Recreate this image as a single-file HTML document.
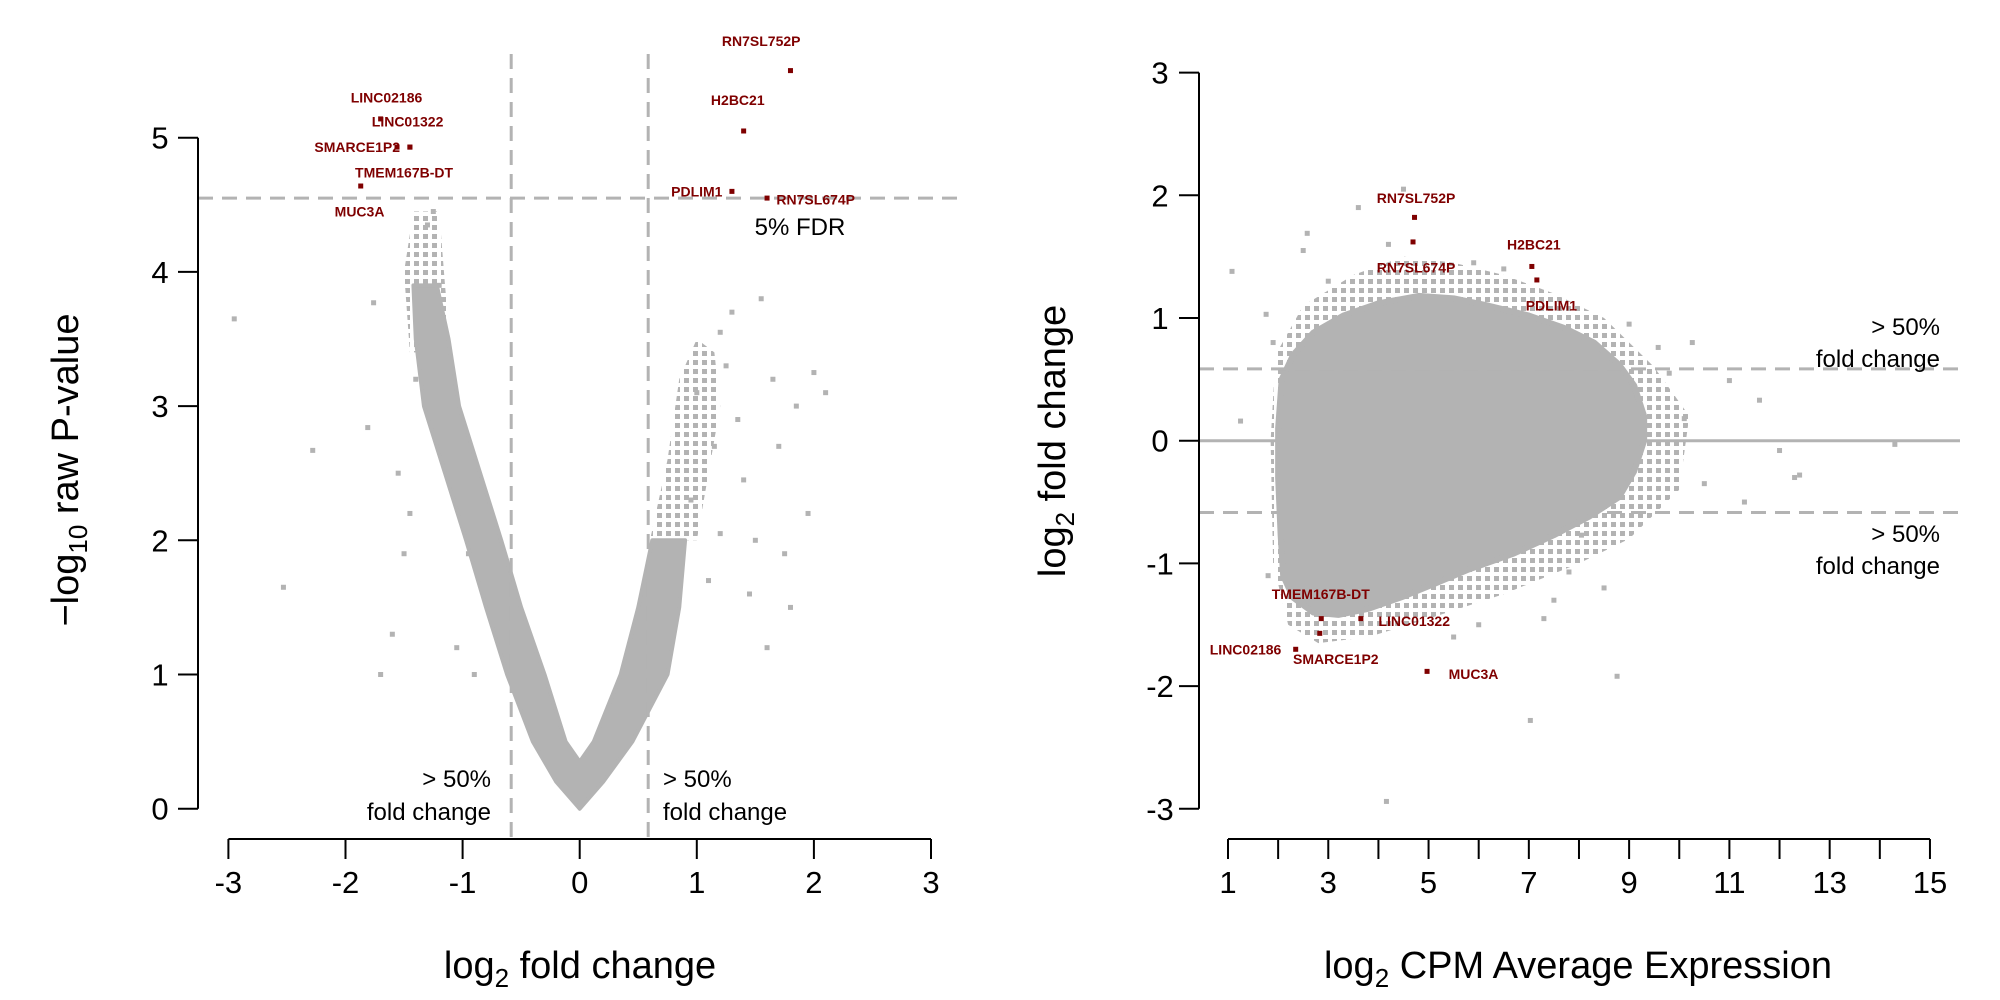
<!DOCTYPE html>
<html><head><meta charset="utf-8"><style>
html,body{margin:0;padding:0;background:#fff}
svg{display:block;font-family:"Liberation Sans",Arial,sans-serif}
</style></head><body>
<svg id="chart" width="2000" height="1000" viewBox="0 0 2000 1000" xmlns="http://www.w3.org/2000/svg">
<defs>
<pattern id="dots" width="9" height="9" patternUnits="userSpaceOnUse"><rect x="0" y="0" width="5" height="5" fill="#b3b3b3"/></pattern>
</defs>
<g id="left"></g>
<g id="right"></g>
</svg>
<script>
// ---------- data ----------
const volXTicks = [-3,-2,-1,0,1,2,3];
const volYTicks = [0,1,2,3,4,5];
const volDense = [[0,0],[-0.2,0.2],[-0.4,0.5],[-0.62,1.0],[-0.8,1.5],[-0.97,2.0],[-1.15,2.5],[-1.33,3.0],[-1.4,3.5],[-1.42,3.9],[-1.22,3.9],[-1.12,3.5],[-1.03,3.0],[-0.85,2.5],[-0.67,2.0],[-0.5,1.5],[-0.3,1.0],[-0.12,0.5],[0,0.35],[0.12,0.5],[0.35,1.0],[0.5,1.5],[0.62,2.0],[0.9,2.0],[0.85,1.5],[0.75,1.0],[0.45,0.5],[0.2,0.2]];
const volHalo = [[-1.45,3.4],[-1.5,4.0],[-1.42,4.45],[-1.2,4.45],[-1.15,3.9],[-1.1,3.4]];
const volHaloRight = [[0.6,2.0],[0.75,2.6],[0.85,3.2],[1.0,3.5],[1.15,3.4],[1.2,3.0],[1.1,2.5],[1.0,2.0]];
const volOutX = [-2.95,-2.28,-2.53,-1.76,-1.81,-1.6,-1.7,-1.5,-1.3,-1.25,-1.4,-1.55,-1.45,-1.2,-1.0,-0.95,-1.05,-0.9,1.55,1.65,2.1,2.0,1.85,1.7,1.4,1.5,1.8,1.95,1.3,1.2,1.45,1.6,1.75,1.35,1.25,1.15,1.1,1.0,0.95,1.2];
const volOutY = [3.65,2.67,1.65,3.77,2.84,1.3,1.0,1.9,4.35,4.45,3.2,2.5,2.2,3.9,2.7,1.9,1.2,1.0,3.8,3.2,3.1,3.25,3.0,2.7,2.45,2.0,1.5,2.2,3.7,3.55,1.6,1.2,1.9,2.9,3.3,2.7,1.7,3.1,2.3,2.05];
const volGenes = ['RN7SL752P','H2BC21','PDLIM1','RN7SL674P','LINC02186','LINC01322','SMARCE1P2','TMEM167B-DT','MUC3A'];
const volGeneX = [1.8,1.4,1.3,1.6,-1.7,-1.45,-1.56,-1.45,-1.87];
const volGeneY = [5.5,5.05,4.6,4.55,5.14,4.93,4.93,4.93,4.64];
const maXTicks = [1,2,3,4,5,6,7,8,9,10,11,12,13,14,15];
const maXLabels = [1,3,5,7,9,11,13,15];
const maYTicks = [-3,-2,-1,0,1,2,3];
const maCloud = [[2.07,0.5],[2.3,0.7],[2.7,0.88],[3.3,1.02],[4.0,1.12],[4.8,1.18],[5.5,1.16],[6.2,1.1],[7.0,1.02],[7.7,0.92],[8.3,0.8],[8.8,0.62],[9.1,0.45],[9.3,0.2],[9.3,0],[9.1,-0.25],[8.8,-0.46],[8.2,-0.62],[7.5,-0.77],[6.7,-0.92],[5.8,-1.05],[5.1,-1.17],[4.5,-1.27],[3.8,-1.37],[3.2,-1.42],[2.7,-1.4],[2.3,-1.28],[2.1,-1.1],[2.05,-0.77],[2.0,-0.3],[2.0,0.1]];
const maHalo = [[1.95,0.7],[2.5,1.1],[3.5,1.35],[4.5,1.5],[5.5,1.45],[6.5,1.35],[7.5,1.2],[8.5,1.0],[9.5,0.6],[10.2,0.2],[10.0,-0.4],[9.0,-0.8],[8.0,-1.0],[6.5,-1.25],[5.0,-1.45],[3.8,-1.6],[2.8,-1.65],[2.2,-1.5],[1.9,-1.0],[1.85,0]];
const maOutA = [2.58,1.76,1.08,1.25,9.58,10.26,11.0,11.6,12.0,12.4,14.3,8.05,7.8,7.03,4.16,8.76,7.3,10.1,3.6,4.2,4.5,5.9,6.5,9.8,10.5,11.3,8.5,9.0,3.0,2.5,1.9,1.8,6.0,7.5,5.5,12.3];
const maOutM = [1.69,1.03,1.38,0.16,0.76,0.8,0.49,0.33,-0.08,-0.28,-0.03,-0.77,-1.07,-2.28,-2.94,-1.92,-1.45,0.18,1.9,1.6,2.05,1.45,1.4,0.55,-0.35,-0.5,-1.2,0.95,1.3,1.55,0.8,-1.1,-1.5,-1.3,-1.6,-0.3];
const maGenes = ['RN7SL752P','RN7SL674P','H2BC21','PDLIM1','TMEM167B-DT','LINC01322','SMARCE1P2','LINC02186','MUC3A'];
const maGeneA = [4.72,4.69,7.06,7.16,2.86,3.65,2.83,2.35,4.97];
const maGeneM = [1.82,1.62,1.42,1.31,-1.45,-1.45,-1.57,-1.7,-1.88];

// ---------- helpers ----------
const NS='http://www.w3.org/2000/svg';
const GRAY='#b3b3b3', RED='#7f0000';
function mk(parent,tag,attrs,text){const e=document.createElementNS(NS,tag);for(const k in attrs)e.setAttribute(k,attrs[k]);if(text!==undefined)e.textContent=text;parent.appendChild(e);return e;}
const xL=v=>579.7+117.1*v, yL=v=>808.7-134.2*v;
const xR=a=>1228+50.14*(a-1), yR=m=>440.7-122.7*m;
const L=document.getElementById('left'), R=document.getElementById('right');

// ---------- left: volcano ----------
let e;
e=mk(L,'polygon',{points:volHalo.map(p=>xL(p[0])+','+yL(p[1])).join(' '),fill:'url(#dots)'});


e=mk(L,'polygon',{points:volHaloRight.map(p=>xL(p[0])+','+yL(p[1])).join(' '),fill:'url(#dots)'});


e=mk(L,'polygon',{points:volDense.map(p=>xL(p[0])+','+yL(p[1])).join(' '),fill:GRAY,stroke:GRAY,'stroke-width':4,'stroke-linejoin':'round'});


volOutX.forEach((v,i)=>{e=mk(L,'rect',{x:xL(v)-2.5,y:yL(volOutY[i])-2.5,width:5,height:5,fill:GRAY});

});
[-0.585,0.585].forEach(v=>{e=mk(L,'line',{x1:xL(v),x2:xL(v),y1:54,y2:839,stroke:GRAY,'stroke-width':3,'stroke-dasharray':'15 9'});

});
e=mk(L,'line',{x1:198,x2:963,y1:yL(4.55),y2:yL(4.55),stroke:GRAY,'stroke-width':3,'stroke-dasharray':'15 9'});


const volLab=[[1.55,5.72,'middle'],[1.35,5.28,'middle'],[1.0,4.6,'middle'],[1.68,4.54,'start'],[-1.65,5.3,'middle'],[-1.47,5.12,'middle'],[-1.9,4.93,'middle'],[-1.5,4.74,'middle'],[-1.88,4.45,'middle']];
volGenes.forEach((g,i)=>{e=mk(L,'rect',{x:xL(volGeneX[i])-2.5,y:yL(volGeneY[i])-2.5,width:5,height:5,fill:RED});


e=mk(L,'text',{x:xL(volLab[i][0]),y:yL(volLab[i][1])+5,'text-anchor':volLab[i][2],'font-size':14,'font-weight':'bold',fill:RED},g);

});
mk(L,'line',{x1:198,x2:198,y1:yL(0),y2:yL(5),stroke:'#000','stroke-width':2});
volYTicks.forEach(t=>{mk(L,'line',{x1:178,x2:198,y1:yL(t),y2:yL(t),stroke:'#000','stroke-width':2});
e=mk(L,'text',{x:160,y:yL(t)+11,'text-anchor':'middle','font-size':31},String(t));

});
mk(L,'line',{x1:xL(-3),x2:xL(3),y1:839,y2:839,stroke:'#000','stroke-width':2});
volXTicks.forEach(t=>{mk(L,'line',{x1:xL(t),x2:xL(t),y1:839,y2:859,stroke:'#000','stroke-width':2});
e=mk(L,'text',{x:xL(t),y:893,'text-anchor':'middle','font-size':31},String(t));

});
</script>
<script>
(function(){
const NS='http://www.w3.org/2000/svg';const L=document.getElementById('left');
function t(x,y,a,s,txt,name){const e=document.createElementNS(NS,'text');e.setAttribute('x',x);e.setAttribute('y',y);e.setAttribute('text-anchor',a);e.setAttribute('font-size',s);e.textContent=txt;


L.appendChild(e);return e;}
t(491,787,'end',24,'> 50%','fold-change-note-left');
t(491,820,'end',24,'fold change','fold-change-note-left');
t(663,787,'start',24,'> 50%','fold-change-note-right');
t(663,820,'start',24,'fold change','fold-change-note-right');
t(800,235,'middle',24,'5% FDR','fdr-note');
const xt=t(580,978,'middle',38,'log','x-axis-title');
const s1=document.createElementNS(NS,'tspan');s1.setAttribute('font-size',26);s1.setAttribute('dy',9);s1.textContent='2';xt.appendChild(s1);
const s2=document.createElementNS(NS,'tspan');s2.setAttribute('dy',-9);s2.textContent=' fold change';xt.appendChild(s2);
const yt=t(0,0,'middle',38,'\u2212log','y-axis-title');yt.setAttribute('transform','translate(78,470) rotate(-90)');
const s3=document.createElementNS(NS,'tspan');s3.setAttribute('font-size',26);s3.setAttribute('dy',9);s3.textContent='10';yt.appendChild(s3);
const s4=document.createElementNS(NS,'tspan');s4.setAttribute('dy',-9);s4.textContent=' raw P-value';yt.appendChild(s4);
})();
</script>
<script>
(function(){
const NS='http://www.w3.org/2000/svg';const GRAY='#b3b3b3',RED='#7f0000';
const R=document.getElementById('right');
function mk(parent,tag,attrs,text){const e=document.createElementNS(NS,tag);for(const k in attrs)e.setAttribute(k,attrs[k]);if(text!==undefined)e.textContent=text;parent.appendChild(e);return e;}
let e;
e=mk(R,'polygon',{points:maHalo.map(p=>xR(p[0])+','+yR(p[1])).join(' '),fill:'url(#dots)'});


e=mk(R,'polygon',{points:maCloud.map(p=>xR(p[0])+','+yR(p[1])).join(' '),fill:GRAY,stroke:GRAY,'stroke-width':6,'stroke-linejoin':'round'});


maOutA.forEach((a,i)=>{e=mk(R,'rect',{x:xR(a)-2.5,y:yR(maOutM[i])-2.5,width:5,height:5,fill:GRAY});

});
e=mk(R,'line',{x1:1199,x2:1960,y1:yR(0),y2:yR(0),stroke:GRAY,'stroke-width':3});


[-0.585,0.585].forEach(m=>{e=mk(R,'line',{x1:1199,x2:1960,y1:yR(m),y2:yR(m),stroke:GRAY,'stroke-width':3,'stroke-dasharray':'15 9'});

});
const lab=[[4.75,1.98,'middle'],[4.75,1.41,'middle'],[7.1,1.6,'middle'],[7.45,1.1,'middle'],[2.85,-1.25,'middle'],[4.0,-1.47,'start'],[3.15,-1.78,'middle'],[1.35,-1.7,'middle'],[5.4,-1.9,'start']];
maGenes.forEach((g,i)=>{e=mk(R,'rect',{x:xR(maGeneA[i])-2.5,y:yR(maGeneM[i])-2.5,width:5,height:5,fill:RED});


e=mk(R,'text',{x:xR(lab[i][0]),y:yR(lab[i][1])+5,'text-anchor':lab[i][2],'font-size':14,'font-weight':'bold',fill:RED},g);

});
mk(R,'line',{x1:1199,x2:1199,y1:yR(-3),y2:yR(3),stroke:'#000','stroke-width':2});
maYTicks.forEach(t=>{mk(R,'line',{x1:1179,x2:1199,y1:yR(t),y2:yR(t),stroke:'#000','stroke-width':2});
e=mk(R,'text',{x:1160,y:yR(t)+11,'text-anchor':'middle','font-size':31},String(t));

});
mk(R,'line',{x1:xR(1),x2:xR(15),y1:839,y2:839,stroke:'#000','stroke-width':2});
maXTicks.forEach(t=>{mk(R,'line',{x1:xR(t),x2:xR(t),y1:839,y2:859,stroke:'#000','stroke-width':2});});
maXLabels.forEach(t=>{e=mk(R,'text',{x:xR(t),y:893,'text-anchor':'middle','font-size':31},String(t));

});
function t(x,y,a,s,txt,name){const el=mk(R,'text',{x:x,y:y,'text-anchor':a,'font-size':s},txt);


return el;}
t(1940,335,'end',24,'> 50%','fold-change-note-up');
t(1940,367,'end',24,'fold change','fold-change-note-up');
t(1940,542,'end',24,'> 50%','fold-change-note-down');
t(1940,574,'end',24,'fold change','fold-change-note-down');
const xt=t(1578,978,'middle',38,'log','x-axis-title');
const a1=document.createElementNS(NS,'tspan');a1.setAttribute('font-size',26);a1.setAttribute('dy',9);a1.textContent='2';xt.appendChild(a1);
const a2=document.createElementNS(NS,'tspan');a2.setAttribute('dy',-9);a2.textContent=' CPM Average Expression';xt.appendChild(a2);
const yt=t(0,0,'middle',38,'log','y-axis-title');yt.setAttribute('transform','translate(1065,441) rotate(-90)');
const a3=document.createElementNS(NS,'tspan');a3.setAttribute('font-size',26);a3.setAttribute('dy',9);a3.textContent='2';yt.appendChild(a3);
const a4=document.createElementNS(NS,'tspan');a4.setAttribute('dy',-9);a4.textContent=' fold change';yt.appendChild(a4);
})();
</script>
</body></html>
